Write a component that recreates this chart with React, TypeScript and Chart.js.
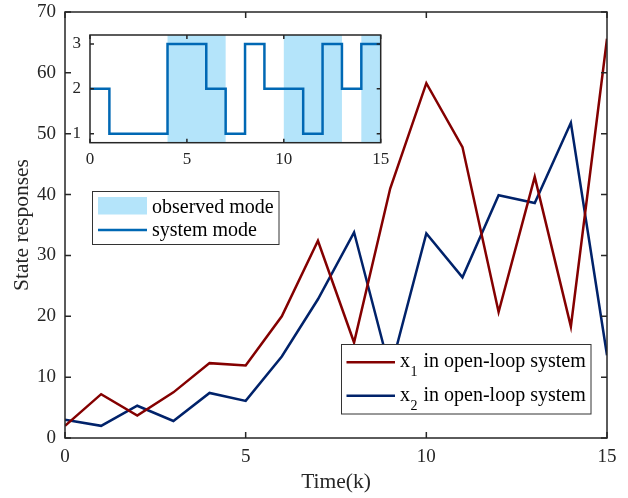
import React, { useEffect, useRef } from "react";
import { Chart, registerables } from "chart.js";

Chart.register(...registerables);

// ---------- data ----------
const timeSteps = [0, 1, 2, 3, 4, 5, 6, 7, 8, 9, 10, 11, 12, 13, 14, 15];
const x1Values = [2.0, 7.2, 3.7, 7.5, 12.3, 11.9, 20.0, 32.4, 15.7, 41.0, 58.3, 47.8, 20.7, 42.9, 18.3, 65.6];
const x2Values = [3.0, 2.0, 5.3, 2.8, 7.4, 6.1, 13.4, 22.8, 33.8, 11.0, 33.6, 26.4, 39.9, 38.6, 51.8, 13.6];
const systemMode = [2, 1, 1, 1, 3, 3, 2, 1, 3, 2, 2, 1, 3, 2, 3, 3];
// 1 = mode observed on the interval starting at that step
const observedFlag = [0, 0, 0, 0, 1, 1, 1, 0, 0, 0, 1, 1, 1, 0, 1, 1];

const mainXTicks = [0, 5, 10, 15];
const mainYTicks = [0, 10, 20, 30, 40, 50, 60, 70];
const insetXTicks = [0, 5, 10, 15];
const insetYTicks = [1, 2, 3];

const xLabel = "Time(k)";
const yLabel = "State responses";
const legendObserved = "observed mode";
const legendSystem = "system mode";
const legendRest = " in open-loop system";

// ---------- style ----------
const FONT = "'Liberation Serif', 'Times New Roman', serif";
const RED = "#840000";
const NAVY = "#00226A";
const MODE_BLUE = "#0068B4";
const SHADE = "rgb(180,228,250)";
const AXIS = "#262626";

function boxTicksPlugin(id: string, xTicks: number[], yTicks: number[], len: number, lw: number) {
  return {
    id,
    afterDatasetsDraw(chart: any) {
      const { ctx, chartArea } = chart;
      const { left, right, top, bottom } = chartArea;
      const xs = chart.scales.x;
      const ys = chart.scales.y;
      ctx.save();
      ctx.strokeStyle = AXIS;
      ctx.lineWidth = lw;
      ctx.beginPath();
      for (const v of xTicks) {
        const px = xs.getPixelForValue(v);
        ctx.moveTo(px, bottom);
        ctx.lineTo(px, bottom - len);
        ctx.moveTo(px, top);
        ctx.lineTo(px, top + len);
      }
      for (const v of yTicks) {
        const py = ys.getPixelForValue(v);
        ctx.moveTo(left, py);
        ctx.lineTo(left + len, py);
        ctx.moveTo(right, py);
        ctx.lineTo(right - len, py);
      }
      ctx.stroke();
      ctx.strokeRect(left, top, right - left, bottom - top);
      ctx.restore();
    },
  };
}

const legendPlugin = {
  id: "customLegends",
  afterDatasetsDraw(chart: any) {
    const { ctx } = chart;
    ctx.save();
    // legend 1 : observed / system mode
    ctx.fillStyle = "#fff";
    ctx.fillRect(92.5, 191.5, 186.5, 53);
    ctx.strokeStyle = "#333";
    ctx.lineWidth = 1;
    ctx.strokeRect(92.5, 191.5, 186.5, 53);
    ctx.fillStyle = SHADE;
    ctx.fillRect(98, 197, 49, 17.5);
    ctx.strokeStyle = MODE_BLUE;
    ctx.lineWidth = 2.5;
    ctx.beginPath();
    ctx.moveTo(98, 230);
    ctx.lineTo(147, 230);
    ctx.stroke();
    ctx.fillStyle = "#000";
    ctx.font = `20px ${FONT}`;
    ctx.textBaseline = "alphabetic";
    ctx.textAlign = "left";
    ctx.fillText(legendObserved, 152, 212.5);
    ctx.fillText(legendSystem, 152, 235.5);

    // legend 2 : x1 / x2
    ctx.fillStyle = "#fff";
    ctx.fillRect(341.5, 344.5, 249.5, 69.5);
    ctx.strokeStyle = "#333";
    ctx.lineWidth = 1;
    ctx.strokeRect(341.5, 344.5, 249.5, 69.5);
    const rows = [
      { color: RED, sub: "1", lineY: 362.3, base: 367 },
      { color: NAVY, sub: "2", lineY: 395.7, base: 400.5 },
    ];
    for (const r of rows) {
      ctx.strokeStyle = r.color;
      ctx.lineWidth = 2.5;
      ctx.beginPath();
      ctx.moveTo(346.5, r.lineY);
      ctx.lineTo(395, r.lineY);
      ctx.stroke();
      ctx.fillStyle = "#000";
      ctx.font = `20px ${FONT}`;
      let x = 400;
      ctx.fillText("x", x, r.base);
      x += ctx.measureText("x").width + 0.5;
      ctx.font = `14px ${FONT}`;
      ctx.fillText(r.sub, x, r.base + 9);
      x += ctx.measureText(r.sub).width + 1;
      ctx.font = `20px ${FONT}`;
      ctx.fillText(legendRest, x, r.base);
    }
    ctx.restore();
  },
};

export default function App() {
  const mainRef = useRef<HTMLCanvasElement | null>(null);
  const insetRef = useRef<HTMLCanvasElement | null>(null);

  useEffect(() => {
    if (!mainRef.current || !insetRef.current) return;
    const tickFont = { family: FONT, size: 19 };
    const fitX = (h: number) => (s: any) => {
      s.height = h;
      s.paddingLeft = 0;
      s.paddingRight = 0;
    };
    const fitY = (w: number) => (s: any) => {
      s.width = w;
      s.paddingTop = 0;
      s.paddingBottom = 0;
    };
    const main = new Chart(mainRef.current, {
      type: "line",
      data: {
        datasets: [
          {
            label: "x1",
            data: timeSteps.map((k, i) => ({ x: k, y: x1Values[i] })),
            borderColor: RED,
            borderWidth: 2.5,
            pointRadius: 0,
            tension: 0,
          },
          {
            label: "x2",
            data: timeSteps.map((k, i) => ({ x: k, y: x2Values[i] })),
            borderColor: NAVY,
            borderWidth: 2.5,
            pointRadius: 0,
            tension: 0,
          },
        ],
      },
      options: {
        animation: false,
        responsive: false,
        devicePixelRatio: 1,
        layout: { padding: { top: 12, right: 21, left: 0, bottom: 0 } },
        plugins: { legend: { display: false }, tooltip: { enabled: false } },
        scales: {
          x: {
            type: "linear",
            min: 0,
            max: 15,
            afterBuildTicks: (s: any) => {
              s.ticks = mainXTicks.map((v) => ({ value: v }));
            },
            ticks: { font: tickFont, color: "#262626", padding: 8, maxRotation: 0 },
            grid: { display: false, drawTicks: false },
            border: { display: false },
            title: { display: true, text: xLabel, font: { family: FONT, size: 21.5 }, color: "#262626", padding: { top: 0, bottom: 3 } },
            afterFit: fitX(60),
          },
          y: {
            type: "linear",
            min: 0,
            max: 70,
            afterBuildTicks: (s: any) => {
              s.ticks = mainYTicks.map((v) => ({ value: v }));
            },
            ticks: { font: tickFont, color: "#262626", padding: 9 },
            grid: { display: false, drawTicks: false },
            border: { display: false },
            title: { display: true, text: yLabel, font: { family: FONT, size: 21.5 }, color: "#262626", padding: { top: 9, bottom: 0 } },
            afterFit: fitY(65),
          },
        },
      },
      plugins: [boxTicksPlugin("mainBox", mainXTicks, mainYTicks, 6, 1.5), legendPlugin],
    } as any);

    const insetFont = { family: FONT, size: 17 };
    const inset = new Chart(insetRef.current, {
      type: "line",
      data: {
        datasets: [
          {
            label: "system mode",
            data: timeSteps.map((k, i) => ({ x: k, y: systemMode[i] })),
            stepped: true,
            borderColor: MODE_BLUE,
            borderWidth: 2.5,
            pointRadius: 0,
            yAxisID: "y",
            order: 0,
          },
          {
            label: "observed mode",
            data: timeSteps.map((k, i) => ({ x: k, y: observedFlag[i] })),
            stepped: true,
            borderColor: "transparent",
            borderWidth: 0,
            backgroundColor: SHADE,
            fill: "start",
            pointRadius: 0,
            yAxisID: "yObs",
            order: 1,
          },
        ],
      },
      options: {
        animation: false,
        responsive: false,
        devicePixelRatio: 1,
        layout: { padding: { top: 7, right: 19.3, left: 0, bottom: 0 } },
        plugins: { legend: { display: false }, tooltip: { enabled: false } },
        scales: {
          x: {
            type: "linear",
            min: 0,
            max: 15,
            afterBuildTicks: (s: any) => {
              s.ticks = insetXTicks.map((v) => ({ value: v }));
            },
            ticks: { font: insetFont, color: "#262626", padding: 7, maxRotation: 0 },
            grid: { display: false, drawTicks: false },
            border: { display: false },
            afterFit: fitX(35.3),
          },
          y: {
            type: "linear",
            min: 0.8,
            max: 3.2,
            afterBuildTicks: (s: any) => {
              s.ticks = insetYTicks.map((v) => ({ value: v }));
            },
            ticks: { font: insetFont, color: "#262626", padding: 9 },
            grid: { display: false, drawTicks: false },
            border: { display: false },
            afterFit: fitY(30),
          },
          yObs: {
            type: "linear",
            min: 0,
            max: 1,
            display: false,
          },
        },
      },
      plugins: [boxTicksPlugin("insetBox", insetXTicks, insetYTicks, 4, 1.5)],
    } as any);

    return () => {
      main.destroy();
      inset.destroy();
    };
  }, []);

  return (
    <div style={{ position: "absolute", left: 0, top: 0, width: 628, height: 498, background: "#fff" }}>
      <canvas ref={mainRef} width={628} height={498} style={{ position: "absolute", left: 0, top: 0 }} />
      <canvas ref={insetRef} width={340} height={150} style={{ position: "absolute", left: 60, top: 28 }} />
    </div>
  );
}
